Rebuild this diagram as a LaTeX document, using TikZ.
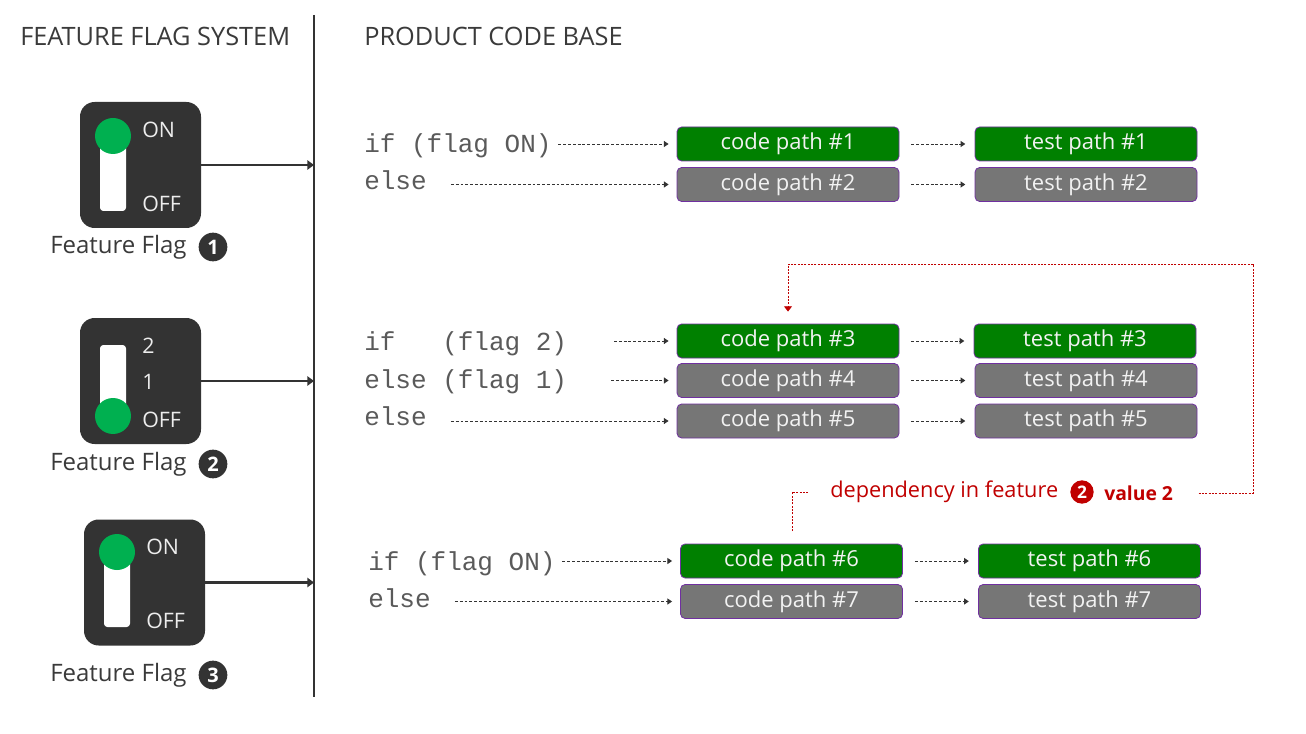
\documentclass[tikz,border=0pt]{standalone}
\usepackage{fontspec}
\setmainfont{Open Sans}
\setmonofont{Liberation Mono}
\usetikzlibrary{arrows.meta}
\definecolor{dark}{HTML}{333333}
\definecolor{tgreen}{HTML}{00B050}
\definecolor{pgreen}{HTML}{008000}
\definecolor{pgray}{HTML}{767676}
\definecolor{pborder}{HTML}{7030A0}
\definecolor{dred}{HTML}{C00000}
\definecolor{txtdark}{HTML}{3A3A3A}
\definecolor{codetxt}{HTML}{5A5A5A}
\definecolor{boxtxt}{HTML}{F2F2F2}
\tikzset{
  x=0.75pt, y=-0.75pt,
  header/.style={anchor=west, inner sep=0pt, text=txtdark, font=\fontsize{19}{19}\selectfont},
  toggle/.style={rectangle, rounded corners=11pt, fill=dark, minimum width=90.75pt, minimum height=94.5pt, inner sep=0pt},
  track/.style={fill=white, rounded corners=2.5pt},
  knob/.style={circle, fill=tgreen, minimum size=27pt, inner sep=0pt},
  tlabel/.style={anchor=west, inner sep=0pt, text=white!93!black, font=\fontsize{16}{16}\selectfont},
  fflabel/.style={anchor=west, inner sep=0pt, text=txtdark, font=\fontsize{18}{18}\selectfont},
  fnum/.style={circle, fill=dark, text=white, minimum size=21.5pt, inner sep=0pt, font=\bfseries\fontsize{15}{15}\selectfont},
  code/.style={anchor=base west, inner sep=0pt, text=codetxt, font=\ttfamily\fontsize{19.5}{19.5}\selectfont},
  pathbox/.style={rectangle, rounded corners=3.5pt, draw=pborder, line width=0.6pt, minimum width=166.5pt, minimum height=25.5pt, inner sep=0pt, text=boxtxt, font=\fontsize{16.5}{16.5}\selectfont},
  gbox/.style={pathbox, fill=pgreen},
  ybox/.style={pathbox, fill=pgray},
  darr/.style={draw=dark, line width=0.7pt, dash pattern=on 2.2pt off 1.4pt, -{Triangle[length=3.5pt,width=4.5pt]}},
  sarr/.style={draw=dark, line width=1.6pt, -{Triangle[length=5pt,width=7pt]}},
  reddash/.style={draw=dred, line width=0.7pt, dash pattern=on 1.5pt off 1pt},
}
\begin{document}
\begin{tikzpicture}
\useasboundingbox (0,0) rectangle (1306,734);
% headers
\node[header] (h1) at (20,36) {FEATURE FLAG SYSTEM};
\node[header] (h2) at (364,36) {PRODUCT CODE BASE};
% divider
\coordinate (divtop) at (314,15);
\coordinate (divbot) at (314,697);
\draw[line width=0.8pt, dark] (divtop) -- (divbot);

% toggle 1
\node[toggle] (t1) at (140.5,165) {};
\fill[track] (100,136) rectangle (126,211);
\node[knob] (k1) at (113,136) {};
\node[tlabel] (t1on) at (142,130) {ON};
\node[tlabel] (t1off) at (142,204) {OFF};
\node[fflabel] (ff1) at (50,247) {Feature Flag};
\node[fnum] (n1) at (213,247) {1};
\draw[sarr] (t1.east) -- (t1.east -| divtop);

% toggle 2
\node[toggle] (t2) at (140.5,381) {};
\fill[track] (100,345) rectangle (126,416);
\node[knob] (k2) at (113,416) {};
\node[tlabel] (t2a) at (142,346) {2};
\node[tlabel] (t2b) at (142,382) {1};
\node[tlabel] (t2off) at (142,420) {OFF};
\node[fflabel] (ff2) at (50,464) {Feature Flag};
\node[fnum] (n2) at (213,464) {2};
\draw[sarr] (t2.east) -- (t2.east -| divtop);

% toggle 3
\node[toggle] (t3) at (144.5,582.5) {};
\fill[track] (104,552) rectangle (130,627);
\node[knob] (k3) at (117,552) {};
\node[tlabel] (t3on) at (146,547) {ON};
\node[tlabel] (t3off) at (146,621) {OFF};
\node[fflabel] (ff3) at (50,675) {Feature Flag};
\node[fnum] (n3) at (213,675) {3};
\draw[sarr] (t3.east) -- (t3.east -| divtop);

% group 1
\node[code] (c1) at (364,153) {if (flag ON)};
\node[code] (c2) at (364,190) {else};
\node[gbox] (cp1) at (788,144) {code path \#1};
\node[ybox] (cp2) at (788,184.5) {code path \#2};
\node[gbox] (tp1) at (1086,144) {test path \#1};
\node[ybox] (tp2) at (1086,184.5) {test path \#2};
\draw[darr] ([xshift=5pt]c1.east |- cp1.west) -- ([xshift=-6pt]cp1.west);
\draw[darr] ([xshift=18pt]c2.east |- cp2.west) -- ([xshift=-6pt]cp2.west);
\draw[darr] ([xshift=9pt]cp1.east) -- ([xshift=-7pt]tp1.west);
\draw[darr] ([xshift=9pt]cp2.east) -- ([xshift=-7pt]tp2.west);

% group 2
\node[code] (c3) at (364,350) {if\ \ \ (flag 2)};
\node[code] (c4) at (364,388) {else (flag 1)};
\node[code] (c5) at (364,425) {else};
\node[gbox] (cp3) at (788,341) {code path \#3};
\node[ybox] (cp4) at (788,380.5) {code path \#4};
\node[ybox] (cp5) at (788,421) {code path \#5};
\node[gbox] (tp3) at (1085,341) {test path \#3};
\node[ybox] (tp4) at (1086,380.5) {test path \#4};
\node[ybox] (tp5) at (1086,421) {test path \#5};
\draw[darr] ([xshift=35pt]c3.east |- cp3.west) -- ([xshift=-6pt]cp3.west);
\draw[darr] ([xshift=33pt]c4.east |- cp4.west) -- ([xshift=-6pt]cp4.west);
\draw[darr] ([xshift=18pt]c5.east |- cp5.west) -- ([xshift=-6pt]cp5.west);
\draw[darr] ([xshift=9pt]cp3.east) -- ([xshift=-7pt]tp3.west);
\draw[darr] ([xshift=9pt]cp4.east) -- ([xshift=-7pt]tp4.west);
\draw[darr] ([xshift=9pt]cp5.east) -- ([xshift=-7pt]tp5.west);

% group 3
\node[code] (c6) at (368,570) {if (flag ON)};
\node[code] (c7) at (368,607) {else};
\node[gbox] (cp6) at (791.5,561) {code path \#6};
\node[ybox] (cp7) at (791.5,601.5) {code path \#7};
\node[gbox] (tp6) at (1089.5,561) {test path \#6};
\node[ybox] (tp7) at (1089.5,601.5) {test path \#7};
\draw[darr] ([xshift=5pt]c6.east |- cp6.west) -- ([xshift=-6pt]cp6.west);
\draw[darr] ([xshift=18pt]c7.east |- cp7.west) -- ([xshift=-6pt]cp7.west);
\draw[darr] ([xshift=9pt]cp6.east) -- ([xshift=-7pt]tp6.west);
\draw[darr] ([xshift=9pt]cp7.east) -- ([xshift=-7pt]tp7.west);

% dependency
\node[anchor=west, inner sep=0pt, text=dred, font=\fontsize{16.3}{16.3}\selectfont] (dep) at (830,492) {dependency in feature};
\node[circle, fill=dred, text=white, minimum size=17.5pt, inner sep=0pt, font=\bfseries\fontsize{13}{13}\selectfont] (dn) at (1082,492) {2};
\node[anchor=west, inner sep=0pt, text=dred, font=\bfseries\fontsize{14.5}{14.5}\selectfont] (dval) at (1104,493) {value 2};
\coordinate (d1) at (792,531);
\coordinate (d2) at (1253,264);
\draw[reddash] (d1) |- ([xshift=-16pt]dep.west);
\draw[reddash, -{Triangle[length=4pt,width=6pt]}] ([xshift=19pt]dval.east) -| (d2) -| ([yshift=9pt]cp3.north);
\end{tikzpicture}
\end{document}
